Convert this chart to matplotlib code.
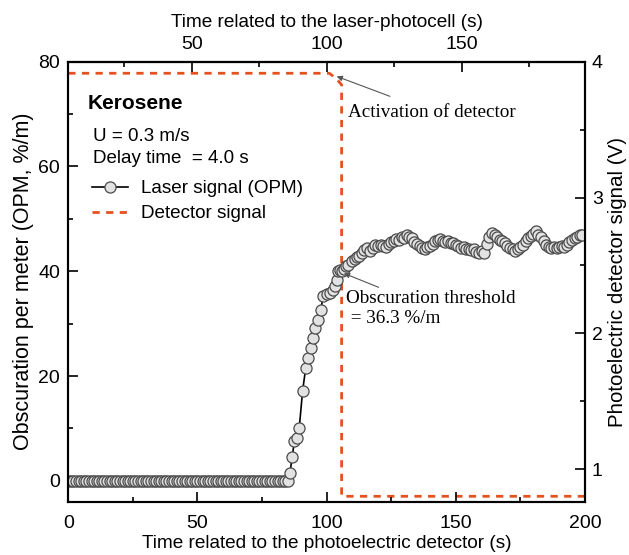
import matplotlib
matplotlib.use('Agg')
import matplotlib.pyplot as plt
from matplotlib.lines import Line2D
from matplotlib.ticker import MultipleLocator

plt.rcParams['font.family'] = ['Liberation Sans', 'DejaVu Sans']

# 레이저 신호 (OPM) : 기준선 0 구간
base_time = list(range(0, 86))
base_opm = [0.0] * len(base_time)

# 상승 구간
rise_time = [85.8, 86.7, 87.5, 88.4, 89.4, 90.7, 91.9, 92.9, 93.8, 94.6,
             95.5, 96.7, 97.7, 98.7, 100.0, 101.3, 102.3, 103.2, 103.9, 104.5,
             105.1, 106.0, 106.7, 107.5, 108.4, 109.7, 110.8, 111.9, 112.7, 113.5,
             114.5, 115.5, 116.8, 117.8, 118.7, 119.8, 121.0]
rise_opm = [1.5, 4.6, 7.5, 8.1, 10.1, 17.2, 21.5, 23.4, 25.3, 27.2,
            29.1, 30.7, 32.6, 35.3, 35.6, 35.9, 36.5, 37.1, 38.4, 40.0,
            40.3, 40.0, 40.4, 41.0, 41.2, 41.9, 42.3, 42.8, 43.0, 43.5,
            44.0, 44.4, 43.8, 44.5, 45.0, 44.8, 45.0]

# 정상 구간 (122 ~ 199 s)
plat_time = list(range(122, 200))
plat_opm = [44.9, 44.6, 45.2, 45.5, 45.8, 46.2, 46.0, 46.6, 46.4, 46.9,
            46.5, 46.3, 45.6, 45.2, 44.9, 44.5, 44.3, 44.6, 44.8, 45.2,
            45.7, 45.9, 46.1, 45.8, 45.6, 45.8, 45.3, 45.4, 45.0, 44.8,
            44.5, 44.7, 44.3, 44.2, 44.0, 44.2, 43.7, 43.5, 43.8, 43.4,
            45.2, 46.6, 47.3, 46.9, 46.6, 46.0, 45.7, 45.3, 44.9, 44.5,
            44.2, 43.8, 44.3, 44.7, 45.1, 45.8, 46.3, 46.8, 47.2, 47.6,
            47.0, 46.6, 45.8, 45.0, 44.6, 44.4, 44.6, 44.5, 44.7, 44.9,
            44.6, 45.0, 45.6, 46.0, 46.3, 46.6, 46.9, 47.0]

opm_time = base_time + rise_time + plat_time
opm = base_opm + rise_opm + plat_opm

# 검출기 신호 (V)
det_time = [0, 101.0, 103.5, 105.8, 105.8, 200]
det_volt = [3.915, 3.915, 3.88, 3.83, 0.80, 0.80]

red = '#e5511f'
dash = (0, (2.6, 2.3))

fig = plt.figure(figsize=(6.29, 5.55), dpi=100)
ax = fig.add_axes([0.1086, 0.096, 0.8214, 0.7928])
ax2 = ax.twinx()

ax2.plot(det_time, det_volt, color=red, ls=dash, lw=2)
ax.plot(opm_time, opm, color='black', lw=1.2, marker='o', ms=8,
        mfc='#e2e2e2', mec='#4a4a4a', mew=0.9)
ax.set_zorder(ax2.get_zorder() + 1)
ax.patch.set_visible(False)

ax.set_xlim(0, 200)
ax.set_ylim(-4, 80)
ax2.set_ylim(0.76, 4.0)

ax.xaxis.set_major_locator(MultipleLocator(50))
ax.xaxis.set_minor_locator(MultipleLocator(25))
ax.yaxis.set_major_locator(MultipleLocator(20))
ax.yaxis.set_minor_locator(MultipleLocator(10))
ax2.yaxis.set_major_locator(MultipleLocator(1))
ax2.yaxis.set_minor_locator(MultipleLocator(0.5))

sec = ax.secondary_xaxis('top', functions=(lambda b: 100 + (b - 100) * 0.957,
                                           lambda t: 100 + (t - 100) / 0.957))
sec.xaxis.set_major_locator(MultipleLocator(50))
sec.xaxis.set_minor_locator(MultipleLocator(25))

for a in (ax, ax2, sec):
    a.tick_params(which='major', direction='in', length=7, width=1.2,
                  labelsize=14, pad=6)
    a.tick_params(which='minor', direction='in', length=3.5, width=1.2)
    for s in a.spines.values():
        s.set_linewidth(1.5)
ax.tick_params(axis='x', which='both', top=False, pad=9.5)
ax2.tick_params(axis='y', pad=5)

ax.set_xlabel('Time related to the photoelectric detector (s)', fontsize=13.7, labelpad=2.5)
ax.set_ylabel('Obscuration per meter (OPM, %/m)', fontsize=15.5, labelpad=3)
ax2.set_ylabel('Photoelectric detector signal (V)', fontsize=14.8, labelpad=4)
sec.set_xlabel('Time related to the laser-photocell (s)', fontsize=13.7, labelpad=6.5)

# 범례와 조건
ax.text(0.038, 0.906, 'Kerosene', transform=ax.transAxes, fontsize=15,
        fontweight='bold', va='center')
ax.text(0.048, 0.829, 'U = 0.3 m/s', transform=ax.transAxes, fontsize=13.5,
        va='center')
ax.text(0.048, 0.779, 'Delay time  = 4.0 s', transform=ax.transAxes, fontsize=13.5,
        va='center')
handles = [Line2D([], [], color='black', lw=1.2, marker='o', ms=8,
                  mfc='#e2e2e2', mec='#4a4a4a', mew=0.9),
           Line2D([], [], color=red, ls=dash, lw=2)]
ax.legend(handles, ['Laser signal (OPM)', 'Detector signal'], loc='upper left',
          bbox_to_anchor=(0.013, 0.77), frameon=False, fontsize=13.6,
          handlelength=1.9, handletextpad=0.7, labelspacing=0.42)

serif = ['Liberation Serif', 'DejaVu Serif']
ax.annotate('Activation of detector', xy=(103.9, 77.2), xytext=(108.2, 70.4),
            fontsize=13.8, family=serif, va='center', ha='left',
            arrowprops=dict(arrowstyle='-|>', color='#555555', lw=0.8,
                            shrinkA=9, shrinkB=0, mutation_scale=8))
ax.annotate('Obscuration threshold\n = 36.3 %/m', xy=(106.7, 39.6),
            xytext=(107.5, 36.4), fontsize=13.8, family=serif, va='top', ha='left',
            linespacing=1.2,
            arrowprops=dict(arrowstyle='-|>', color='#555555', lw=0.8,
                            shrinkA=0, shrinkB=0, mutation_scale=8))

fig.savefig('out.png', dpi=100)
